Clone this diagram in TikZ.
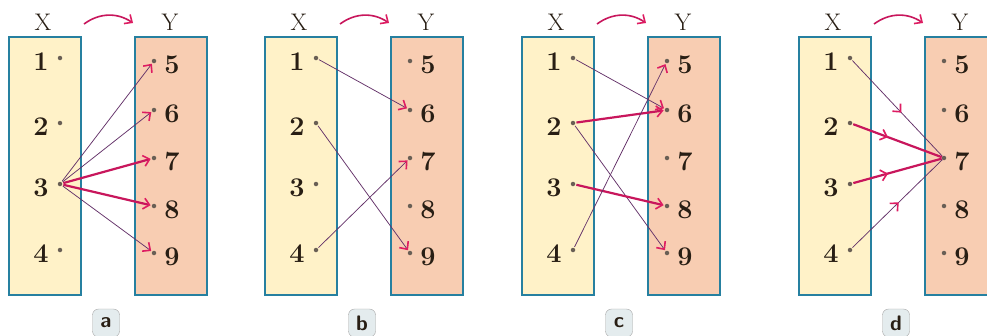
\documentclass[tikz,border=0pt]{standalone}
\usetikzlibrary{arrows.meta,decorations.markings}
\definecolor{boxblue}{RGB}{38,128,160}
\definecolor{xfill}{RGB}{255,242,200}
\definecolor{yfill}{RGB}{248,205,178}
\definecolor{tipcol}{RGB}{222,28,98}
\definecolor{thincol}{RGB}{100,50,105}
\definecolor{thickcol}{RGB}{200,22,92}
\definecolor{dotcol}{RGB}{105,95,85}
\definecolor{numcol}{RGB}{40,30,20}
\definecolor{labfill}{RGB}{228,236,238}
\tikzset{
  setbox/.style={draw=boxblue,line width=2pt,minimum width=72pt,minimum height=258pt,inner sep=0pt},
  xbox/.style={setbox,fill=xfill},
  ybox/.style={setbox,fill=yfill},
  setlab/.style={font=\fontsize{24}{26}\selectfont,text=numcol,inner sep=0pt},
  num/.style={font=\fontsize{27}{29}\selectfont\bfseries,text=numcol,inner sep=0pt},
  dotnode/.style={circle,fill=dotcol,inner sep=0pt,minimum size=4.5pt},
  tipA/.tip={Straight Barb[length=6pt,width=11pt,line width=1.6pt,color=tipcol]},
  thinarr/.style={draw=thincol,line width=0.75pt,-tipA,shorten >=1pt,shorten <=1pt},
  thickarr/.style={draw=thickcol,line width=2.2pt,-tipA,shorten >=1pt,shorten <=1pt},
  thinmid/.style={draw=thincol,line width=0.75pt,shorten <=1pt,postaction={decorate},
     decoration={markings,mark=at position #1 with {\arrow{tipA}}}},
  thickmid/.style={draw=thickcol,line width=2.2pt,shorten <=1pt,postaction={decorate},
     decoration={markings,mark=at position #1 with {\arrow{tipA}}}},
  toparr/.style={draw=thickcol,line width=1.6pt,-tipA},
  panlab/.style={draw=gray!70,fill=labfill,rounded corners=6pt,minimum width=27pt,minimum height=28pt,
     inner sep=0pt,font=\sffamily\bfseries\fontsize{21}{22}\selectfont,text=numcol}
}
\newcommand{\mappanel}[3]{%
 \begin{scope}[shift={(#2,0)}]
  \node[xbox] (#1X) at (36.5,166) {};
  \node[ybox] (#1Y) at (162.5,166) {};
  \node[setlab] (#1xl) at (35,22) {X};
  \node[setlab] (#1yl) at (162,22) {Y};
  \coordinate (#1ts) at (76,24);
  \coordinate (#1te) at (125,23);
  \draw[toparr] (#1ts) to[bend left=35] (#1te);
  \foreach \i/\yy in {1/62,2/127,3/188,4/254}{
    \node[num] (#1n\i) at (33,\yy) {\i};
    \node[dotnode] (#1x\i) at (52,\yy-4) {};
  }
  \foreach \i/\yy in {5/65,6/114,7/162,8/210,9/257}{
    \node[num] (#1m\i) at (164,\yy) {\i};
    \node[dotnode] (#1y\i) at (146,\yy-4) {};
  }
  \node[panlab] (#1lab) at (98,323) {#3};
 \end{scope}}
\begin{document}
\begin{tikzpicture}[x=1pt,y=-1pt]
\useasboundingbox (0,0) rectangle (987,335);
\clip (0,0) rectangle (987,335);
\fill[white] (0,0) rectangle (987,335);
% panel a
\mappanel{a}{8}{a}
\draw[thinarr] (ax3) -- (ay5);
\draw[thinarr] (ax3) -- (ay6);
\draw[thickarr] (ax3) -- (ay7);
\draw[thickarr] (ax3) -- (ay8);
\draw[thinarr] (ax3) -- (ay9);
% panel b
\mappanel{b}{264}{b}
\draw[thinarr] (bx1) -- (by6);
\draw[thinarr] (bx2) -- (by9);
\draw[thinarr] (bx4) -- (by7);
% panel c
\mappanel{c}{521}{c}
\draw[thinarr] (cx1) -- (cy6);
\draw[thickarr] (cx2) -- (cy6);
\draw[thinarr] (cx2) -- (cy9);
\draw[thickarr] (cx3) -- (cy8);
\draw[thinarr] (cx4) -- (cy5);
% panel d
\mappanel{d}{798}{d}
\draw[thinmid=0.55] (dx1) -- (dy7);
\draw[thickmid=0.4] (dx2) -- (dy7);
\draw[thickmid=0.4] (dx3) -- (dy7);
\draw[thinmid=0.52] (dx4) -- (dy7);
\end{tikzpicture}
\end{document}
